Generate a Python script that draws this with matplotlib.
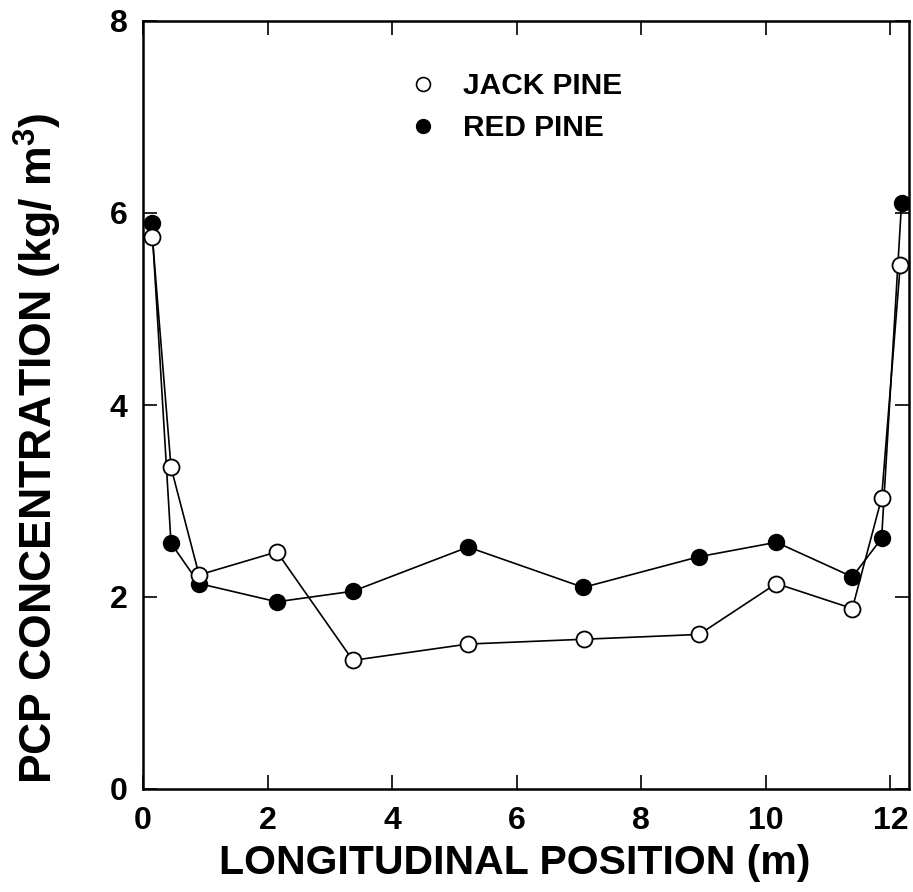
import matplotlib
matplotlib.use("Agg")
import matplotlib.pyplot as plt
from matplotlib.lines import Line2D

plt.rcParams['font.family'] = ['Liberation Sans', 'DejaVu Sans']
plt.rcParams['font.weight'] = 'bold'
plt.rcParams['mathtext.fontset'] = 'custom'
plt.rcParams['mathtext.rm'] = 'Liberation Sans:bold'
plt.rcParams['mathtext.bf'] = 'Liberation Sans:bold'
plt.rcParams['mathtext.default'] = 'bf'

# Data (longitudinal position in m, PCP concentration in kg/m^3)
jack_x = [0.15, 0.45, 0.90, 2.15, 3.37, 5.22, 7.08, 8.93, 10.17, 11.39, 11.86, 12.16]
jack_y = [5.75, 3.35, 2.23, 2.47, 1.34, 1.51, 1.56, 1.61, 2.14, 1.88, 3.03, 5.46]
red_x = [0.14, 0.45, 0.90, 2.15, 3.37, 5.22, 7.07, 8.93, 10.17, 11.39, 11.86, 12.18]
red_y = [5.90, 2.56, 2.14, 1.95, 2.06, 2.52, 2.10, 2.42, 2.57, 2.21, 2.61, 6.10]

x_ticks = [0, 2, 4, 6, 8, 10, 12]
y_ticks = [0, 2, 4, 6, 8]

fig = plt.figure(figsize=(9.13, 8.92), dpi=100)
ax = fig.add_axes([143/913, 1-789/892, (909-143)/913, (789-21)/892])

ax.plot(red_x, red_y, color='black', lw=1.2, marker='o', ms=11.5,
        mfc='black', mec='black', zorder=3)
ax.plot(jack_x, jack_y, color='black', lw=1.2, marker='o', ms=11.5,
        mfc='white', mec='black', mew=1.3, zorder=4)

ax.set_xlim(0, 12.3)
ax.set_ylim(0, 8)
ax.set_xticks(x_ticks)
ax.set_yticks(y_ticks)
ax.tick_params(direction='in', length=10, width=1.2, top=True, right=True,
               labelsize=23)
ax.tick_params(axis='x', pad=12)
ax.tick_params(axis='y', pad=11)
for lab in ax.get_xticklabels() + ax.get_yticklabels():
    lab.set_fontweight('bold')
for s in ax.spines.values():
    s.set_linewidth(1.8)

ax.set_xlabel('LONGITUDINAL POSITION (m)', fontsize=29.5, fontweight='bold')
ax.xaxis.set_label_coords(0.485, -0.071)
ax.xaxis.label.set_va('top')
ax.set_ylabel(r'PCP CONCENTRATION (kg/ m$^{3}$)', fontsize=32, fontweight='bold')
ax.yaxis.set_label_coords(-0.103, 0.444)

handles = [
    Line2D([], [], ls='none', marker='o', ms=10, mfc='white', mec='black', mew=1.2),
    Line2D([], [], ls='none', marker='o', ms=10, mfc='black', mec='black'),
]
leg = ax.legend(handles, ['JACK PINE', 'RED PINE'], loc='upper left',
                bbox_to_anchor=(411/913, 1-72/892), bbox_transform=fig.transFigure,
                frameon=False, fontsize=21.5, handlelength=0.8, handletextpad=0.95,
                labelspacing=0.48, borderpad=0, borderaxespad=0)
for t in leg.get_texts():
    t.set_fontweight('bold')

fig.savefig('out.png', dpi=100)
